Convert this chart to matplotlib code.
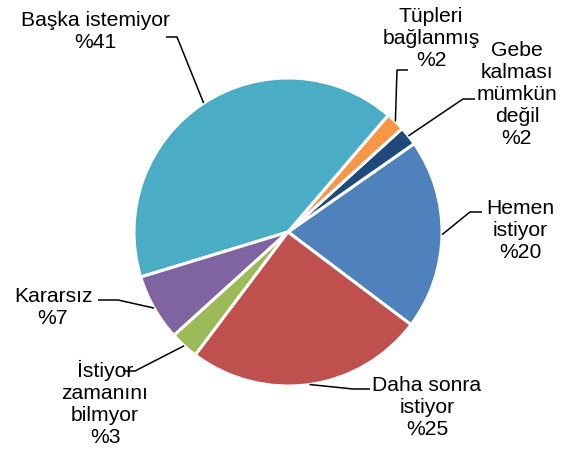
import matplotlib
matplotlib.use("Agg")
import matplotlib.pyplot as plt
import numpy as np

labels = ["Hemen\nistiyor", "Gebe\nkalması\nmümkün\ndeğil", "Tüpleri\nbağlanmış",
          "Başka istemiyor", "Kararsız", "İstiyor\nzamanını\nbilmyor", "Daha sonra\nistiyor"]
values = [20, 2, 2, 41, 7, 3, 25]
colors = ["#4F81BD", "#1F497D", "#F79646", "#4BACC6", "#8064A2", "#9BBB59", "#C0504D"]

W, H = 575, 452
fig = plt.figure(figsize=(W / 100, H / 100), dpi=100)
ax = fig.add_axes([0, 0, 1, 1])

cx, cy, R = 288, H - 233, 154
wedges, _ = ax.pie(values, colors=colors, startangle=-37, counterclock=True,
                   radius=R, center=(cx, cy), explode=[0.018] * len(values),
                   wedgeprops=dict(edgecolor="white", linewidth=2.2))
ax.set_xlim(0, W)
ax.set_ylim(0, H)
ax.set_aspect("equal")
ax.axis("off")

# label layout: (text center x, text center y from top, elbow x, elbow y, end x)
layout = [
    (520, 231, 470, 213, 482),
    (517, 95, 463, 100, 475),
    (431, 38, 397, 71, 408),
    (95, 31, 177, 38, 166),
    (53, 307, 118, 301, 98),
    (105, 403, 135, 372, 123),
    (427, 408, 353, 390, 370),
]

for w, lab, v, (tx, ty, ex, ey, endx) in zip(wedges, labels, values, layout):
    ang = np.deg2rad((w.theta1 + w.theta2) / 2)
    px = w.center[0] + w.r * np.cos(ang)
    py = w.center[1] + w.r * np.sin(ang)
    ax.plot([px, ex, endx], [py, H - ey, H - ey], color="black", lw=1.1,
            solid_capstyle="butt", zorder=3)
    ax.text(tx, H - ty, f"{lab}\n%{v}", ha="center", va="center",
            fontsize=15.2, family="Liberation Sans", linespacing=1.2,
            color="black", zorder=4)

fig.savefig("out.png", dpi=100)
